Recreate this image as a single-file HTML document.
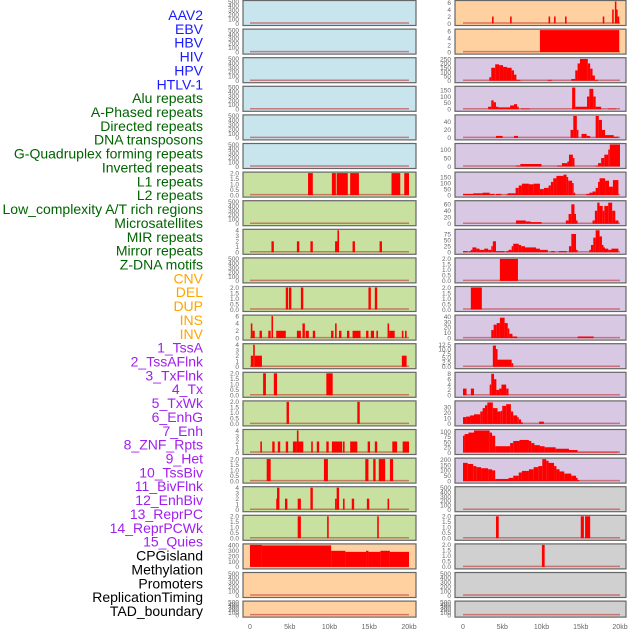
<!DOCTYPE html>
<html><head><meta charset="utf-8">
<style>
html,body{margin:0;padding:0;background:#fff;}
#wrap{position:relative;width:630px;height:630px;overflow:hidden;}
svg text{font-family:"Liberation Sans",sans-serif;}
</style></head>
<body>
<div id="wrap">
<svg id="chart" width="630" height="630" viewBox="0 0 630 630" xmlns="http://www.w3.org/2000/svg"></svg>
</div>
<script>
const labels = ["AAV2","EBV","HBV","HIV","HPV","HTLV-1","Alu repeats","A-Phased repeats","Directed repeats","DNA transposons","G-Quadruplex forming repeats","Inverted repeats","L1 repeats","L2 repeats","Low_complexity A/T rich regions","Microsatellites","MIR repeats","Mirror repeats","Z-DNA motifs","CNV","DEL","DUP","INS","INV","1_TssA","2_TssAFlnk","3_TxFlnk","4_Tx","5_TxWk","6_EnhG","7_Enh","8_ZNF_Rpts","9_Het","10_TssBiv","11_BivFlnk","12_EnhBiv","13_ReprPC","14_ReprPCWk","15_Quies","CPGisland","Methylation","Promoters","ReplicationTiming","TAD_boundary"];
const labelColors = [].concat(Array(6).fill("#1a1aff"),Array(13).fill("#006400"),Array(5).fill("#ffa500"),Array(15).fill("#a020f0"),Array(5).fill("#000000"));
const xTickValues = [0,5,10,15,20];
const xTickLabels = ["0","5kb","10kb","15kb","20kb"];
const T500=[0,100,200,300,400,500], T2=[0,0.5,1,1.5,2], T4=[0,1,2,3,4];
const leftYmax = [500,500,500,500,500,500,2,500,4,500,2,6,4,2,2,4,2,4,2,410,500,500];
const leftTicks = [T500,T500,T500,T500,T500,T500,T2,T500,T4,T500,T2,[0,2,4,6],T4,T2,T2,T4,T2,T4,T2,[0,100,200,300,400],T500,T500];
const leftColors = ["#c8e4ec","#c8e4ec","#c8e4ec","#c8e4ec","#c8e4ec","#c8e4ec","#c8e0a0","#c8e0a0","#c8e0a0","#c8e0a0","#c8e0a0","#c8e0a0","#c8e0a0","#c8e0a0","#c8e0a0","#c8e0a0","#c8e0a0","#c8e0a0","#c8e0a0","#ffd0a0","#ffd0a0","#ffd0a0"];
const leftSegs = [
 [],[],[],[],[],[],
 [[7.3,7.9,2],[10.3,10.8,2],[10.9,12.3,2],[12.6,13.7,2],[17.8,18.9,2],[19.4,20.0,2]],
 [],
 [[2.7,3.0,2],[5.9,6.2,2],[7.6,7.9,2],[10.7,11.0,2],[11.0,11.2,4],[12.9,13.2,2],[16.3,16.6,2]],
 [],
 [[4.5,4.8,2],[4.9,5.2,2],[6.4,6.7,2],[14.9,15.2,2],[15.7,16.0,2]],
 [[0.1,0.3,4],[0.3,0.6,2],[1.2,1.5,2],[2.3,2.6,2],[2.7,2.9,6],[3.3,4.5,2],[5.9,6.4,2],[6.6,6.9,4],[7.0,7.4,2],[7.9,8.2,2],[10.2,10.5,2],[10.7,10.9,4],[11.2,11.5,2],[12.2,12.5,2],[12.9,13.9,2],[14.6,14.9,2],[15.2,15.6,2],[15.9,16.1,2],[17.3,17.5,4],[17.5,18.2,2],[19.1,19.3,2],[19.5,19.7,2]],
 [[0.1,0.4,2],[0.4,0.6,4],[0.6,1.5,2],[19.1,19.7,2]],
 [[1.65,2.0,2],[3.0,3.4,2],[9.6,10.4,2]],
 [[4.6,4.9,2],[13.5,13.8,2]],
 [[1.3,1.5,2],[2.8,3.1,2],[3.5,3.8,2],[4.5,4.8,2],[5.4,5.9,2],[5.9,6.1,4],[6.1,6.7,2],[7.7,7.9,2],[8.4,8.7,2],[9.6,9.9,2],[10.3,11.6,2],[11.7,11.9,2],[12.6,13.5,2],[14.8,15.1,2],[15.7,16.0,2],[17.9,18.5,2],[19.2,20.0,2]],
 [[2.1,2.6,2],[9.3,9.8,2],[14.5,14.9,2],[15.5,15.8,2],[16.2,17.0,2],[17.6,18.0,2]],
 [[3.3,3.4,2],[3.4,3.7,4],[4.4,4.7,2],[6.0,6.4,2],[7.6,7.9,4],[10.7,10.9,2],[10.9,11.2,4],[11.7,11.9,2],[12.8,13.1,2],[14.7,15.0,2],[17.3,17.5,2]],
 [[6.0,6.4,2],[9.7,9.9,2],[16.0,16.2,2]],
 [[0,1.5,410],[1.5,10.2,400],[10.2,12.0,300],[12.0,14.6,280],[14.6,14.9,300],[14.9,16.4,280],[16.4,17.6,300],[17.6,20.0,280]],
 [],[]
];
const rightYmax = [6.3,6.3,255,172,55,130,183,68,90,2,2,41,12.5,8.2,39,105,205,500,2,2,500,500];
const rightTicks = [[0,2,4,6],[0,2,4,6],[0,50,100,150,200,250],[0,50,100,150],[0,20,40],[0,50,100],[0,50,100,150],[0,20,40,60],[0,25,50,75],T2,T2,[0,10,20,30,40],[0,2.5,5,7.5,10,12.5],[0,2,4,6,8],[0,10,20,30],[0,25,50,75,100],[0,50,100,150,200],T500,T2,T2,T500,T500];
const rightColors = ["#ffd0a0","#ffd0a0","#d8c8e4","#d8c8e4","#d8c8e4","#d8c8e4","#d8c8e4","#d8c8e4","#d8c8e4","#d8c8e4","#d8c8e4","#d8c8e4","#d8c8e4","#d8c8e4","#d8c8e4","#d8c8e4","#d8c8e4","#d0d0d0","#d0d0d0","#d0d0d0","#d0d0d0","#d0d0d0"];
const rightSegs = [
 [[3.7,3.9,2],[6.0,6.2,2],[10.9,11.1,2],[11.6,11.8,2],[13.0,13.2,2],[17.8,18.0,2],[19.0,19.2,4],[19.35,19.5,6.3],[19.5,19.7,4],[19.7,19.9,2]],
 [[9.8,19.9,6.3]],
 [[3.35,3.6,40],[3.6,4.1,150],[4.1,4.6,190],[4.6,5.1,180],[5.1,5.6,160],[5.6,6.2,150],[6.2,6.5,120],[6.5,6.8,70],[6.8,7.3,10],[10.8,11.3,10],[13.8,14.3,20],[14.3,14.6,120],[14.6,14.9,200],[14.9,15.9,252],[15.9,16.2,200],[16.2,16.5,140],[16.5,16.8,60],[16.8,17.2,10]],
 [[3.2,3.6,20],[3.6,3.9,70],[3.9,4.2,55],[4.2,4.5,20],[4.5,6.0,15],[6.0,6.5,30],[6.5,6.9,40],[6.9,7.1,20],[7.4,8.5,5],[13.9,14.3,170],[14.3,15.8,20],[15.8,16.1,100],[16.1,16.6,160],[16.6,16.9,100],[16.9,17.6,20],[18.5,19.5,5]],
 [[4.2,5.05,5],[6.5,7.0,5],[13.7,14.05,20],[14.05,14.5,55],[14.5,14.7,20],[15.1,15.75,10],[15.75,16.2,5],[16.9,17.3,55],[17.3,17.7,45],[17.7,18.1,20],[18.1,19.2,7],[19.2,19.8,3]],
 [[6.75,7.3,5],[7.3,10.0,15],[12.0,12.6,5],[12.6,13.3,20],[13.3,13.5,30],[13.5,14.0,70],[14.0,14.2,50],[16.9,17.2,5],[17.2,17.6,20],[17.6,18.0,50],[18.0,18.5,70],[18.5,18.7,100],[18.7,20.0,130]],
 [[0,1.3,10],[1.3,2.5,15],[2.5,3.4,20],[3.4,4.0,10],[4.2,4.9,10],[5.5,5.7,5],[5.7,6.7,15],[6.7,7.1,60],[7.1,7.5,80],[7.5,8.4,95],[8.4,9.0,90],[9.0,9.8,95],[9.8,10.3,50],[10.3,10.9,60],[10.9,11.2,80],[11.2,11.5,110],[11.5,11.9,140],[11.9,12.8,160],[12.8,13.2,170],[13.2,13.4,150],[13.4,13.9,120],[13.9,14.1,100],[14.1,14.3,20],[15.7,16.1,10],[16.1,16.5,20],[16.5,16.9,30],[16.9,17.2,60],[17.2,17.4,110],[17.4,18.1,140],[18.1,18.6,120],[18.6,19.1,70],[19.1,19.8,125]],
 [[6.75,8.0,10],[8.0,8.6,7],[8.6,10.0,5],[13.1,13.45,10],[13.45,13.8,30],[13.8,14.2,60],[14.2,14.4,30],[14.4,14.5,10],[16.5,16.8,10],[16.8,17.1,40],[17.1,17.4,65],[17.4,17.8,55],[17.8,18.0,40],[18.0,18.5,55],[18.5,19.0,65],[19.0,19.4,40],[19.4,19.8,10]],
 [[0,0.6,5],[0.8,1.0,5],[1.0,1.2,10],[1.2,1.7,20],[1.7,2.1,15],[2.1,2.7,10],[2.7,3.2,15],[3.2,3.6,10],[3.6,3.8,25],[3.8,4.2,45],[4.2,5.3,5],[5.5,5.8,5],[5.8,6.2,10],[6.2,6.4,25],[6.4,7.1,35],[7.1,7.4,30],[7.4,7.9,25],[7.9,9.3,20],[9.3,9.8,15],[9.8,10.8,10],[11.2,11.7,5],[12.2,13.2,5],[13.5,13.8,25],[13.8,14.4,75],[14.4,14.6,10],[16.1,16.3,10],[16.3,16.6,30],[16.6,16.9,60],[16.9,17.4,90],[17.4,17.7,65],[17.7,17.9,30],[17.9,18.0,20],[18.0,18.5,15],[18.5,18.9,10],[18.9,19.8,15]],
 [[4.7,7.0,2]],
 [[1.0,2.4,2]],
 [[3.6,3.9,15],[3.9,4.3,25],[4.3,4.7,28],[4.7,5.3,38],[5.3,5.7,28],[5.7,5.9,18],[5.9,6.3,8],[6.3,6.9,3],[14.6,16.65,3]],
 [[3.8,4.2,12],[4.2,4.4,10],[4.4,6.2,4],[6.2,6.4,2]],
 [[0,0.45,2.5],[1.0,1.4,2.5],[3.4,3.6,4],[3.6,3.95,8],[3.95,4.25,6],[4.25,4.6,2],[4.6,4.9,2.5],[4.9,5.5,4],[5.5,5.8,2.5]],
 [[0,0.4,12],[0.4,0.9,13],[0.9,1.4,15],[1.4,2.2,17],[2.2,2.5,22],[2.5,2.8,28],[2.8,3.1,33],[3.1,3.8,38],[3.8,4.4,28],[4.4,4.8,22],[4.8,5.0,23],[5.0,5.5,32],[5.5,6.1,35],[6.1,6.4,22],[6.4,6.9,15],[6.9,7.1,12],[7.1,7.4,8],[7.4,7.6,3],[9.7,10.3,4]],
 [[0,0.2,80],[0.2,0.7,88],[0.7,1.4,95],[1.4,3.4,105],[3.4,3.7,95],[3.7,4.1,80],[4.1,6.0,30],[6.0,6.4,45],[6.4,7.2,55],[7.2,8.4,60],[8.4,8.7,55],[8.7,9.1,45],[9.1,9.8,35],[9.8,10.4,30],[10.4,11.8,25],[11.8,13.5,18],[13.5,14.6,12],[14.6,19.8,3]],
 [[0,0.6,170],[0.6,1.3,160],[1.3,1.7,140],[1.7,2.3,130],[2.3,3.2,120],[3.2,3.7,110],[3.7,4.1,100],[4.1,5.8,20],[5.8,6.4,30],[6.4,7.1,50],[7.1,7.5,80],[7.5,8.4,95],[8.4,9.0,110],[9.0,9.6,130],[9.6,10.1,140],[10.1,10.6,205],[10.6,10.9,190],[10.9,11.6,170],[11.6,11.9,140],[11.9,12.3,110],[12.3,12.9,90],[12.9,13.8,70],[13.8,14.4,50],[14.4,14.6,30],[14.6,14.8,10]],
 [],
 [[4.2,4.55,2],[15.0,15.4,2],[15.55,16.2,2]],
 [[10.05,10.4,2]],
 [],[]
];

const NS="http://www.w3.org/2000/svg";
const svg=document.getElementById('chart');
function mk(tag,attrs,parent){const e=document.createElementNS(NS,tag);for(const k in attrs)e.setAttribute(k,attrs[k]);(parent||svg).appendChild(e);return e;}
const rowTop=i=>i*28.6;
const rowH=i=>(i===21?16:25);
const cols=[
 {px:243,pw:173,x0:250,x1:409,ymax:leftYmax,ticks:leftTicks,colors:leftColors,segs:leftSegs,side:'left'},
 {px:455,pw:171,x0:463,x1:620,ymax:rightYmax,ticks:rightTicks,colors:rightColors,segs:rightSegs,side:'right'}
];

labels.forEach((t,i)=>{
  const e=mk('text',{x:203,y:15+i*13.86+5,'text-anchor':'end','font-size':'14',fill:labelColors[i]});
  e.textContent=t;
  
  
});

cols.forEach(c=>{
  const xs=kb=>c.x0+(kb/20)*(c.x1-c.x0);
  for(let i=0;i<22;i++){
    const top=rowTop(i),h=rowH(i);
    const g=mk('g',{});
    
    
    mk('rect',{x:c.px,y:top+0.5,width:c.pw,height:h,fill:c.colors[i],stroke:'#666',"stroke-width":1.2},g);
    const yTop=top+1.5,yBot=top+h-1.5;
    const ys=v=>yBot-(v/c.ymax[i])*(yBot-yTop);
    const useDec=c.ticks[i].some(v=>!Number.isInteger(v));
    c.ticks[i].forEach(v=>{
      const t=mk('text',{x:c.px-4,y:ys(v)+2.3,'text-anchor':'end','font-size':'6.5',fill:'#666'},g);
      t.textContent=useDec?v.toFixed(1):String(v);
      
      
    });
    const bl=mk('line',{x1:xs(0),x2:xs(20),y1:yBot-0.5,y2:yBot-0.5,stroke:'rgba(190,40,40,0.55)','stroke-width':1.5},g);
    
    
    c.segs[i].forEach(s=>{
      const y=Math.max(yTop,ys(s[2]));
      const r=mk('rect',{x:xs(s[0]),y:y,width:Math.max(1.5,xs(s[1])-xs(s[0])),height:yBot-y,fill:'#ff0000'},g);
      
      
    });
  }
  xTickValues.forEach((v,k)=>{
    const t=mk('text',{x:xs(v),y:629,'text-anchor':'middle','font-size':'7',fill:'#666'});
    t.textContent=xTickLabels[k];
    
    
  });
});
</script>
</body></html>
